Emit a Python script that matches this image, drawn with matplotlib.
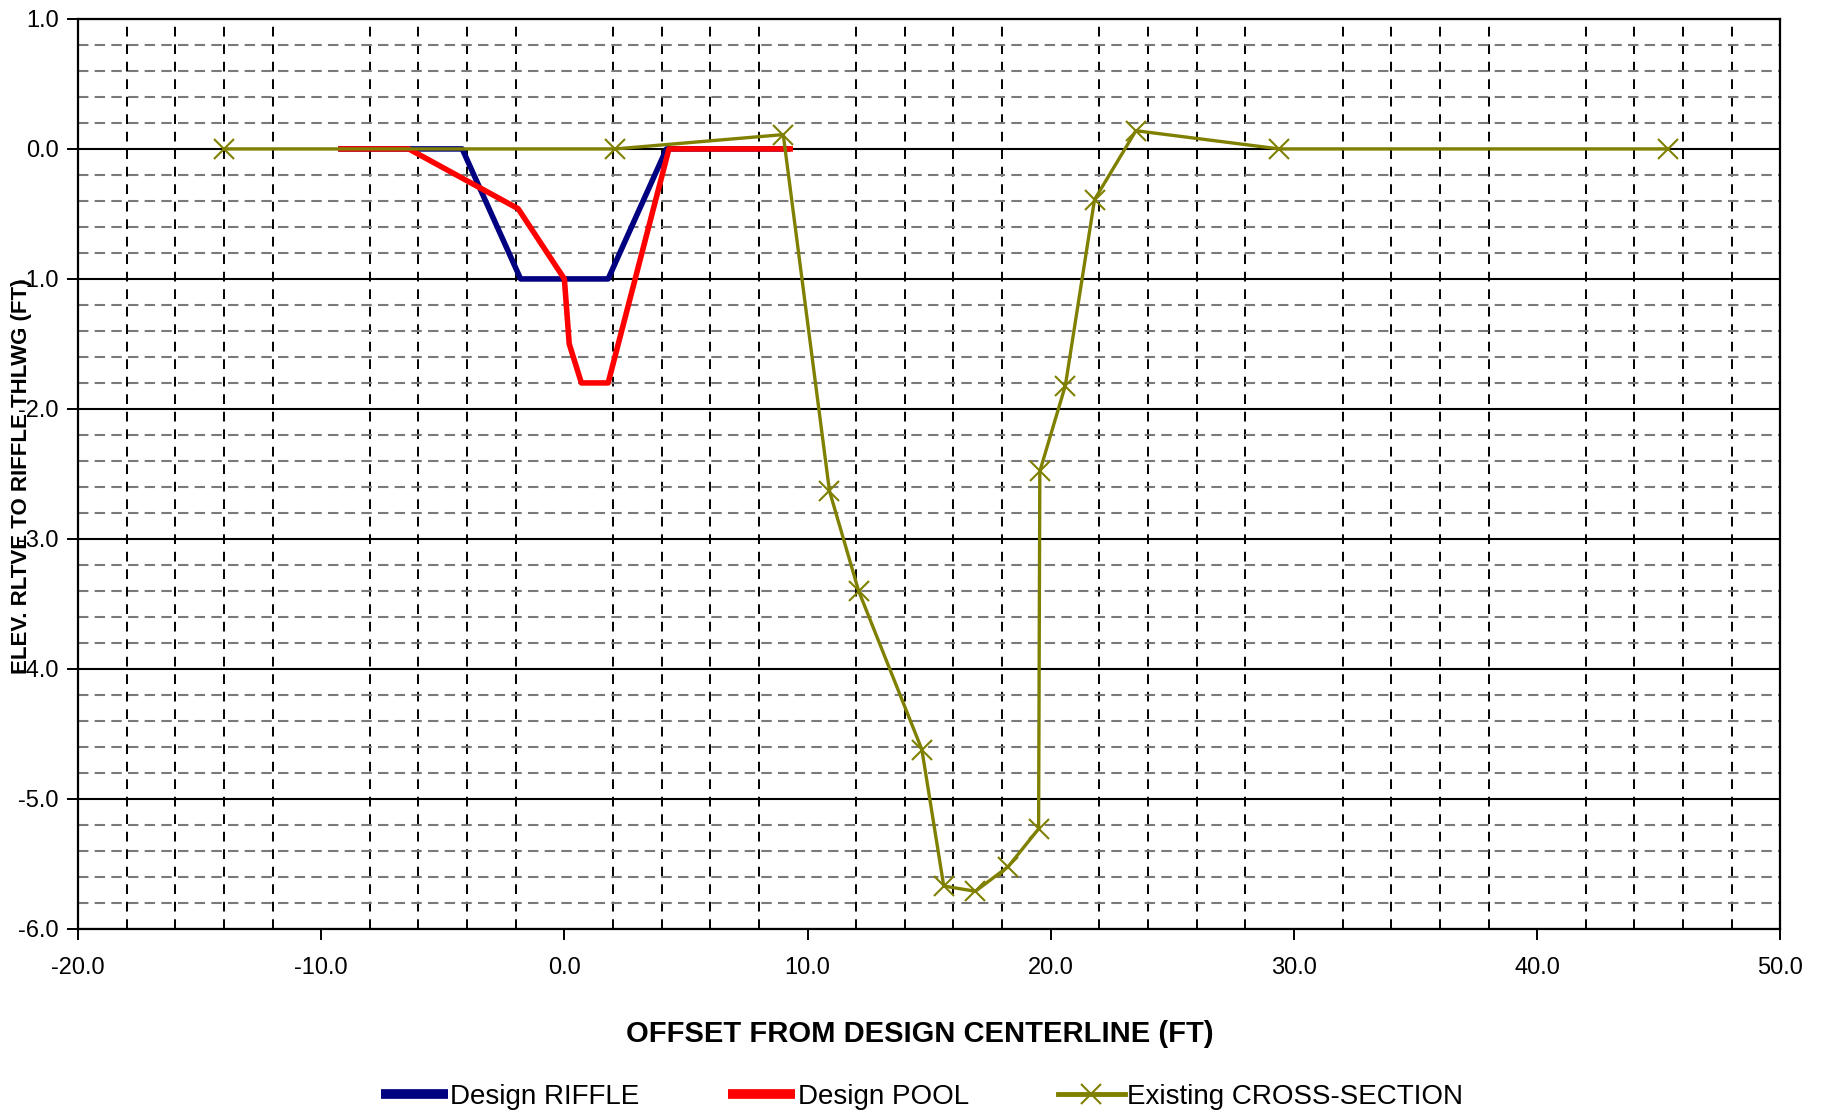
"""Channel cross-section: design riffle / pool vs. existing survey."""
import matplotlib

matplotlib.use("Agg")
import matplotlib.pyplot as plt
import numpy as np
from matplotlib.ticker import MultipleLocator

plt.rcParams["font.family"] = ["Liberation Sans", "DejaVu Sans"]

# offset (ft) / elevation relative to riffle thalweg (ft)
riffle_x = [-9.3, -4.2, -1.8, 1.8, 4.2, 9.3]
riffle_y = [0.0, 0.0, -1.0, -1.0, 0.0, 0.0]

pool_x = [-9.3, -6.4, -1.9, 0.0, 0.2, 0.7, 1.8, 4.3, 9.4]
pool_y = [0.0, 0.0, -0.46, -1.0, -1.5, -1.8, -1.8, 0.0, 0.0]

xs_x = [-14.0, 2.1, 9.0, 10.9, 12.1, 14.7, 15.6, 16.9, 18.25, 19.5, 19.55,
        20.6, 21.8, 23.5, 29.4, 45.4]
xs_y = [0.0, 0.0, 0.11, -2.63, -3.40, -4.62, -5.67, -5.71, -5.52, -5.23, -2.48,
        -1.82, -0.39, 0.14, 0.0, 0.0]

fig = plt.figure(figsize=(18.26, 11.12), dpi=100)
ax = fig.add_axes([0.0427, 0.1646, 0.9323, 0.8184])

ax.plot(riffle_x, riffle_y, color="#000080", lw=4.0, label="Design RIFFLE",
        solid_capstyle="butt", zorder=3)
ax.plot(pool_x, pool_y, color="#ff0000", lw=4.0, label="Design POOL",
        solid_capstyle="butt", zorder=4)
ax.plot(xs_x, xs_y, color="#808000", lw=2.4, marker="x", ms=14, mew=1.5,
        label="Existing CROSS-SECTION", zorder=5)

ax.set_xlim(-20, 50)
ax.set_ylim(-6, 1)
ax.xaxis.set_major_locator(MultipleLocator(10))
ax.xaxis.set_minor_locator(MultipleLocator(2))
ax.yaxis.set_major_locator(MultipleLocator(1))
ax.yaxis.set_minor_locator(MultipleLocator(0.2))
ax.xaxis.set_major_formatter(lambda v, p: f"{v:.1f}")
ax.yaxis.set_major_formatter(lambda v, p: f"{v:.1f}")

ax.grid(True, which="minor", axis="x", color="black", ls=(0, (5, 4)), lw=1.4)
ax.grid(True, which="minor", axis="y", color="#7a7a7a", ls=(0, (5, 3)), lw=1.5)
ax.grid(True, which="major", axis="y", color="black", ls="-", lw=1.5)
ax.set_axisbelow(True)

ax.tick_params(axis="both", which="major", direction="out", length=8, width=1.4,
               labelsize=17, colors="black")
ax.tick_params(axis="x", which="major", pad=12)
ax.tick_params(axis="y", which="major", pad=6)
ax.tick_params(which="minor", length=0)
for sp in ax.spines.values():
    sp.set_linewidth(1.6)

fig.text(0.504, 1 - 1034 / 1112, "OFFSET FROM DESIGN CENTERLINE (FT)",
         ha="center", va="center", fontsize=21, fontweight="bold")
fig.text(0.012, 1 - 476 / 1112, "ELEV. RLTVE TO RIFFLE THLWG (FT)",
         ha="center", va="center", rotation=90, fontsize=16, fontweight="bold",
         zorder=10)

leg = fig.legend(loc="center", bbox_to_anchor=(0.505, 1 - 1097 / 1112), ncol=3,
                 frameon=False, fontsize=20, handlelength=2.4, handletextpad=0.1,
                 columnspacing=3.2)
for line in leg.get_lines()[:2]:
    line.set_linewidth(7)
leg.get_lines()[2].set_linewidth(3.5)

fig.savefig("out.png", dpi=100)
plt.close(fig)
